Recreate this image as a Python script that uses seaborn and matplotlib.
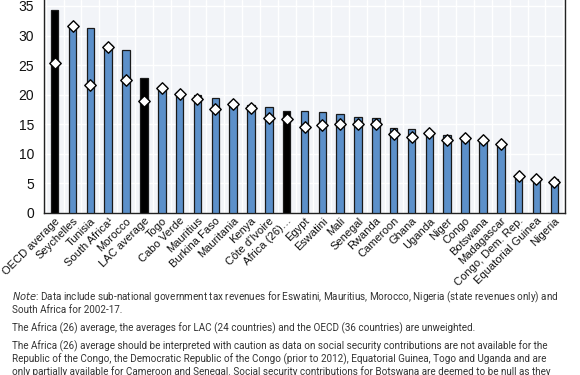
import matplotlib
matplotlib.use("Agg")
import matplotlib.pyplot as plt
import numpy as np
import pandas as pd
import seaborn as sns

# --- data -----------------------------------------------------------------
countries = ["OECD average", "Seychelles", "Tunisia", "South Africa\u00b9", "Morocco",
             "LAC average", "Togo", "Cabo Verde", "Mauritius", "Burkina Faso",
             "Mauritania", "Kenya", "C\u00f4te d'Ivoire", "Africa (26)\u2026", "Egypt",
             "Eswatini", "Mali", "Senegal", "Rwanda", "Cameroon", "Ghana", "Uganda",
             "Niger", "Congo", "Botswana", "Madagascar", "Congo, Dem. Rep.",
             "Equatorial Guinea", "Nigeria"]
latest = [34.3, 31.8, 31.3, 28.4, 27.6, 22.9, 21.4, 20.4, 19.9, 19.4,
          18.8, 18.3, 18.0, 17.3, 17.2, 17.0, 16.8, 16.3, 16.1, 14.4,
          14.2, 13.7, 13.1, 12.8, 12.5, 11.9, 6.4, 6.0, 5.7]
earlier = [25.3, 31.6, 21.7, 28.0, 22.4, 19.0, 21.1, 20.1, 19.2, 17.5,
           18.4, 17.8, 16.0, 15.9, 14.6, 14.8, 15.0, 15.1, 15.0, 13.4,
           12.9, 13.6, 12.3, 12.6, 12.3, 11.7, 6.2, 5.8, 5.2]
averages = ["OECD average", "LAC average", "Africa (26)\u2026"]

notes = [
    (r"$\it{Note}$: Data include sub-national government tax revenues for Eswatini, Mauritius, "
     "Morocco, Nigeria (state revenues only) and"),
    "South Africa for 2002-17.",
    None,
    "The Africa (26) average, the averages for LAC (24 countries) and the OECD (36 countries) are unweighted.",
    None,
    ("The Africa (26) average should be interpreted with caution as data on social security "
     "contributions are not available for the"),
    ("Republic of the Congo, the Democratic Republic of the Congo (prior to 2012), Equatorial "
     "Guinea, Togo and Uganda and are"),
    ("only partially available for Cameroon and Senegal. Social security contributions for "
     "Botswana are deemed to be null as they"),
]

BLUE = "#4a8fdc"
df = pd.DataFrame({"country": countries, "latest": latest, "earlier": earlier})
df["kind"] = np.where(df["country"].isin(averages), "avg", "country")

sns.set_style("white")
plt.rcParams["font.family"] = ["Liberation Sans Narrow", "Liberation Sans", "DejaVu Sans"]

fig = plt.figure(figsize=(5.8, 3.75), dpi=100)
ax = fig.add_axes([44 / 580, 1 - 213 / 375, 521 / 580, 213 / 375])
ax.set_facecolor("#f2f4f8")

sns.barplot(data=df, x="country", y="latest", hue="kind",
            palette={"avg": "black", "country": BLUE}, width=0.42,
            edgecolor="#1a1a1a", linewidth=0.9, legend=False, ax=ax, zorder=3)
sns.scatterplot(data=df, x="country", y="earlier", marker="D", s=34,
                color="white", edgecolor="black", linewidth=1.0, ax=ax, zorder=4)

n = len(countries)
ax.set_xlim(-0.6, n - 0.4)
ax.set_ylim(0, 36)
ax.set_yticks(np.arange(0, 36, 5))
ax.set_xticks(np.arange(-0.5, n), minor=True)
ax.grid(False)
ax.grid(True, which="minor", axis="x", color="white", lw=1.0, zorder=0)
ax.grid(True, which="major", axis="y", color="white", lw=1.0, zorder=0)
ax.tick_params(axis="x", which="major", length=0, pad=2)
ax.tick_params(axis="x", which="minor", direction="in", length=3, width=0.8, color="black")
ax.tick_params(axis="y", length=3, width=0.8, color="black", labelsize=10, pad=4)
ax.set_xticklabels(countries, rotation=45, ha="right", rotation_mode="anchor",
                   fontsize=8.0, color="#111111")
for lab in ax.get_yticklabels():
    lab.set_fontfamily(["Liberation Sans", "DejaVu Sans"])
    lab.set_color("#111111")
ax.set_xlabel("")
ax.set_ylabel("")
for side in ["left", "bottom", "right"]:
    ax.spines[side].set_visible(True)
    ax.spines[side].set_color("#222222")
    ax.spines[side].set_linewidth(1.0)
ax.spines["top"].set_visible(False)

# footnotes
y = 297
for line in notes:
    if line is None:
        y += 5
        continue
    fig.text(12 / 580, 1 - y / 375, line, fontsize=7.1, color="#333333",
             family=["Roboto", "DejaVu Sans"], va="center", ha="left")
    y += 13

fig.savefig("out.png", dpi=100, facecolor="white")
